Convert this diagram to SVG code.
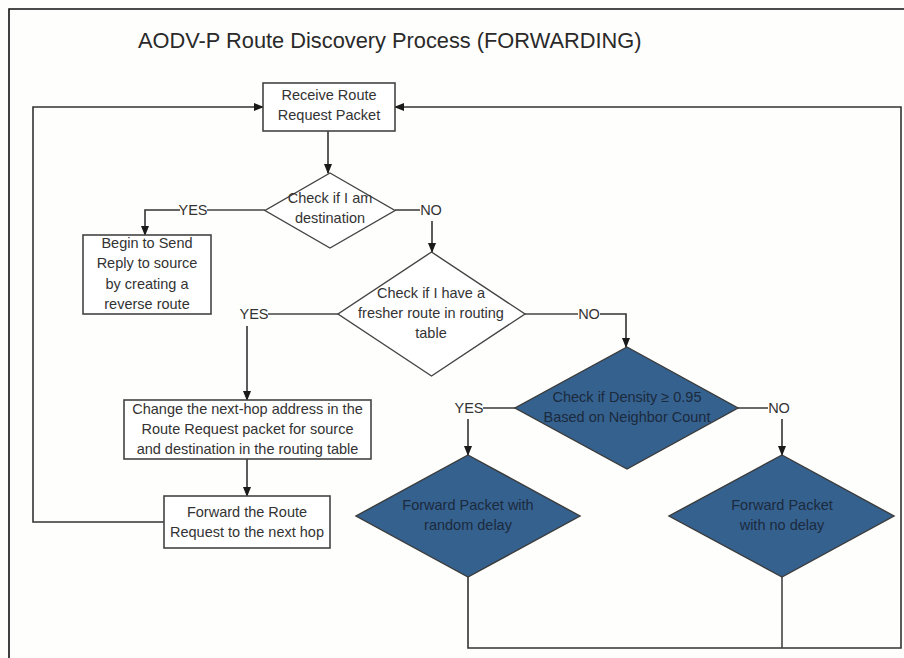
<svg xmlns="http://www.w3.org/2000/svg" width="904" height="658" viewBox="0 0 904 658">
<defs>
<marker id="ah" markerWidth="10" markerHeight="8" refX="9" refY="4" orient="auto" markerUnits="userSpaceOnUse">
<path d="M0,0 L10,4 L0,8 Z" fill="#1a1a1a"/>
</marker>
<style>
.t{font-family:"Liberation Sans",Arial,sans-serif;font-size:14.5px;fill:#333;text-anchor:middle}
.tb{font-family:"Liberation Sans",Arial,sans-serif;font-size:14.5px;fill:#1b2a3c;text-anchor:middle}
.box{fill:#fff;stroke:#444;stroke-width:1.6}
.dia{fill:#fff;stroke:#444;stroke-width:1.4}
.blue{fill:#35618f;stroke:#3a3a3a;stroke-width:1.4}
.ln{fill:none;stroke:#444;stroke-width:1.6}
.ar{fill:none;stroke:#333;stroke-width:1.6;marker-end:url(#ah)}
</style>
</defs>
<rect x="0" y="0" width="904" height="658" fill="#fefefc"/>
<path d="M9,658 L9,9 L904,9" fill="none" stroke="#111" stroke-width="1.6"/>
<text x="138" y="48" font-family="Liberation Sans,Arial,sans-serif" font-size="21.8" fill="#2a2a2a">AODV-P Route Discovery Process (FORWARDING)</text>

<g id="connectors">
<path class="ar" d="M328,131 L328,173"/>
<path class="ln" d="M265,210 L207,210"/>
<path class="ar" d="M180,210 L145,210 L145,235"/>
<path class="ln" d="M395,210 L420,210"/>
<path class="ar" d="M432,221 L432,252"/>
<path class="ln" d="M338,314 L268,314"/>
<path class="ar" d="M247,326 L247,400"/>
<path class="ln" d="M525,314 L578,314"/>
<path class="ar" d="M600,314 L626,314 L626,347"/>
<path class="ln" d="M515,408 L483,408"/>
<path class="ar" d="M468,419 L468,455"/>
<path class="ln" d="M738,408 L768,408"/>
<path class="ar" d="M782,419 L782,455"/>
<path class="ar" d="M247,459 L247,496"/>
<path class="ar" d="M164,522 L33,522 L33,107 L263,107"/>
<path class="ar" d="M468,577 L468,648 L901,648 L901,107 L395,107"/>
<path class="ln" d="M782,577 L782,648"/>
<text class="t" x="193" y="215">YES</text>
<text class="t" x="431" y="215">NO</text>
<text class="t" x="254" y="319">YES</text>
<text class="t" x="589" y="319">NO</text>
<text class="t" x="469" y="413">YES</text>
<text class="t" x="779" y="413">NO</text>
</g>

<g id="receive">
<rect class="box" x="263" y="83" width="132" height="48"/>
<text class="t" x="329" y="100">Receive Route</text>
<text class="t" x="329" y="120">Request Packet</text>
</g>

<g id="check-dest">
<polygon class="dia" points="330,173 395,210.5 330,248 265,210.5"/>
<text class="t" x="330" y="203">Check if I am</text>
<text class="t" x="330" y="223">destination</text>
</g>

<g id="send-reply">
<rect class="box" x="83" y="235" width="128" height="79"/>
<text class="t" x="147" y="248">Begin to Send</text>
<text class="t" x="147" y="268">Reply to source</text>
<text class="t" x="147" y="289">by creating a</text>
<text class="t" x="147" y="309">reverse route</text>
</g>

<g id="check-fresher">
<polygon class="dia" points="431.5,252 525,314 431.5,376 338,314"/>
<text class="t" x="431" y="298">Check if I have a</text>
<text class="t" x="431" y="318">fresher route in routing</text>
<text class="t" x="431" y="338">table</text>
</g>

<g id="change-hop">
<rect class="box" x="124" y="400" width="247" height="59"/>
<text class="t" x="247.5" y="414">Change the next-hop address in the</text>
<text class="t" x="247.5" y="434">Route Request packet for source</text>
<text class="t" x="247.5" y="454">and destination in the routing table</text>
</g>

<g id="forward-request">
<rect class="box" x="164" y="496" width="166" height="52"/>
<text class="t" x="247" y="517">Forward the Route</text>
<text class="t" x="247" y="537">Request to the next hop</text>
</g>

<g id="check-density">
<polygon class="blue" points="627,347 738,408 627,469 515,408"/>
<text class="tb" x="627" y="402">Check if Density ≥ 0.95</text>
<text class="tb" x="627" y="422">Based on Neighbor Count</text>
</g>

<g id="forward-random">
<polygon class="blue" points="468,455 580,516 468,577 356,516"/>
<text class="tb" x="468" y="510">Forward Packet with</text>
<text class="tb" x="468" y="530">random delay</text>
</g>

<g id="forward-nodelay">
<polygon class="blue" points="782,455 894,516 782,577 669,516"/>
<text class="tb" x="782" y="510">Forward Packet</text>
<text class="tb" x="782" y="530">with no delay</text>
</g>
</svg>
